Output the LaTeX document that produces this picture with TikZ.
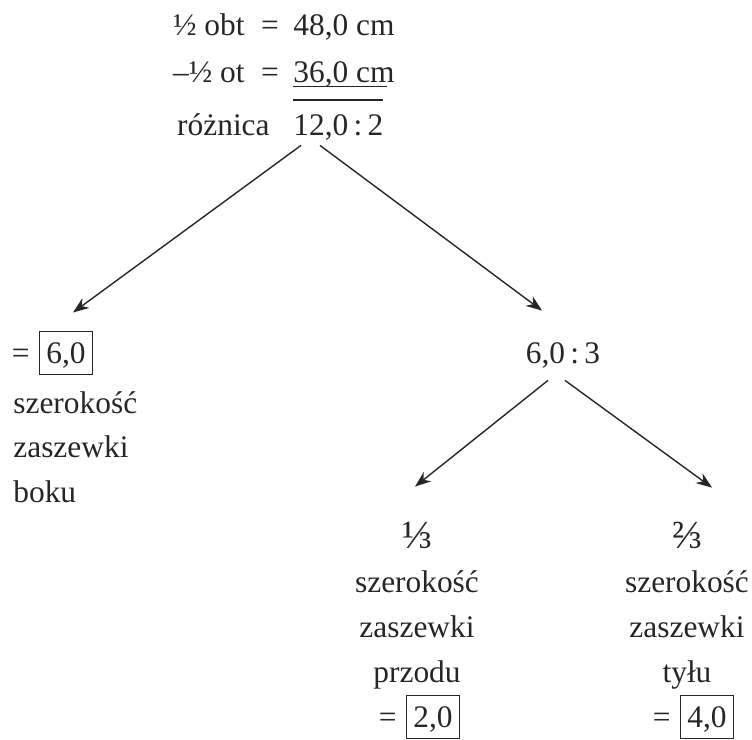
\documentclass[tikz,border=0pt]{standalone}
\usepackage{fontspec}
\setmainfont{Liberation Serif}
\usetikzlibrary{arrows.meta,positioning,calc}
\definecolor{ink}{gray}{0.15}
\tikzstyle{txt} = [inner sep=0pt, text height=11pt, text depth=3.5pt, text=ink]
\tikzstyle{frac} = [txt, font=\fontsize{20}{20}\selectfont]
\tikzstyle{result} = [rectangle, draw=ink, line width=0.5pt, inner xsep=3.5pt, inner ysep=0pt, text height=16pt, text depth=5.5pt, text=ink]
\tikzstyle{branch} = [->, draw=ink, line width=0.7pt]

\begin{document}
\begin{tikzpicture}[x=0.5pt,y=-0.5pt,node distance=7.5pt,>={Stealth[length=8pt,width=6pt]},font=\fontsize{15.7}{19}\selectfont]
    \useasboundingbox (0,0) rectangle (752,740);

    % half girths and difference
    \node [txt, anchor=base east] (obt) at (245,35) {½ obt};
    \node [txt, anchor=base] (eqobt) at (270,35) {=};
    \node [txt, anchor=base west] (obtval) at (293,35) {48,0 cm};
    \node [txt, anchor=base east] (ot) at (245,82) {–½ ot};
    \node [txt, anchor=base] (eqot) at (270,82) {=};
    \node [txt, anchor=base west] (otval) at (293,82) {36,0 cm};
    \node [txt, anchor=base east] (diffname) at (270,135) {różnica};
    \node [txt, anchor=base west] (diff) at (293,135) {12,0\,:\,2};
    \draw [ink, line width=0.5pt] ($(otval.base west)+(0,4)$) -- ($(otval.base east)+(-8,4)$);
    \draw [ink, line width=0.6pt] ($(otval.base west)+(0,18)$) -- ($(otval.base west)+(90,18)$);

    % side dart
    \node [result, anchor=base] (side) at (66,363) {6,0};
    \node [txt, anchor=base east] (eqside) at ($(side.base west)+(-9,0)$) {=};
    \node [txt, anchor=base west] (side1) at (13,413) {szerokość};
    \node [txt, below right=7.5pt and 0pt of side1.south west] (side2) {zaszewki};
    \node [txt, below right=7.5pt and 0pt of side2.south west] (side3) {boku};

    % split of the rest
    \node [txt, anchor=base] (split) at (563,363) {6,0\,:\,3};

    % front dart
    \node [frac, anchor=base] (front) at (417,548) {⅓};
    \node [txt, below=of front] (front1) {szerokość};
    \node [txt, below=of front1] (front2) {zaszewki};
    \node [txt, below=of front2] (front3) {przodu};
    \node [result, anchor=base] (frontval) at (433,727) {2,0};
    \node [txt, anchor=base east] (eqfront) at ($(frontval.base west)+(-9,0)$) {=};

    % back dart
    \node [frac, anchor=base] (back) at (687,548) {⅔};
    \node [txt, below=of back] (back1) {szerokość};
    \node [txt, below=of back1] (back2) {zaszewki};
    \node [txt, below=of back2] (back3) {tyłu};
    \node [result, anchor=base] (backval) at (707,727) {4,0};
    \node [txt, anchor=base east] (eqback) at ($(backval.base west)+(-9,0)$) {=};

    \draw [branch] ($(diff.south west)+(8,3)$) -- ($(side.north)+(7,-18)$);
    \draw [branch] ($(diff.south west)+(27,3)$) -- ($(split.north)+(-21,-30)$);
    \draw [branch] ($(split.south)+(-15,10)$) -- ($(front.north)+(-2,-39)$);
    \draw [branch] ($(split.south)+(2,10)$) -- ($(back.north)+(25,-38)$);
\end{tikzpicture}
\end{document}
